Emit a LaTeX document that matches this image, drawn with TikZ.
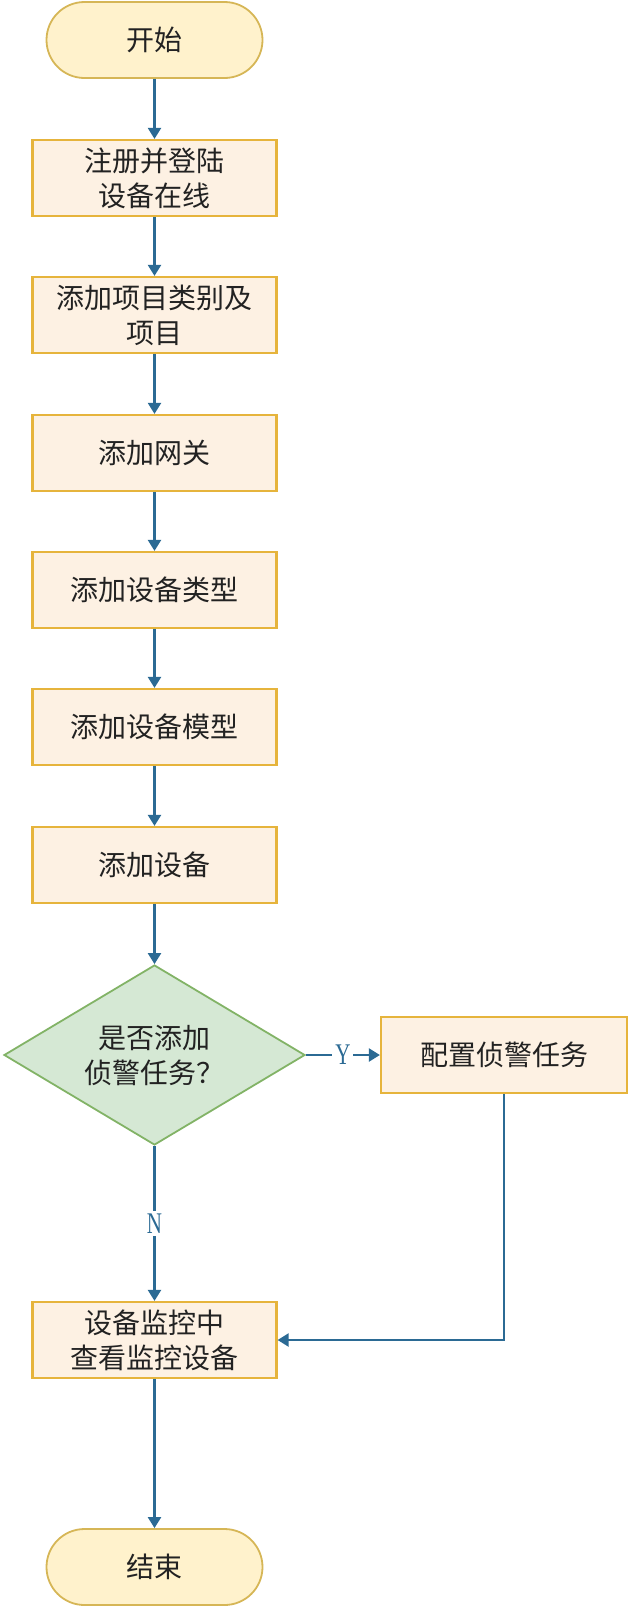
\documentclass[tikz,border=0pt]{standalone}
\usepackage{fontspec}
\newfontfamily\cjk{Noto Sans CJK SC}
\setmainfont{Liberation Serif}
\newfontfamily\condfont[FakeStretch=0.7]{Liberation Serif}
\usetikzlibrary{shapes.geometric,arrows.meta}
\definecolor{boxfill}{HTML}{FDF1E3}
\definecolor{boxline}{HTML}{E6B43C}
\definecolor{termfill}{HTML}{FFF2CC}
\definecolor{termline}{HTML}{D6B656}
\definecolor{decfill}{HTML}{D5E8D4}
\definecolor{decline}{HTML}{82B366}
\definecolor{arrowc}{HTML}{2B6A94}
\definecolor{txt}{HTML}{222222}
\tikzset{
  base/.style={font=\cjk\fontsize{28}{35}\selectfont, text=txt, align=center, inner sep=0pt},
  term/.style={base, draw=termline, fill=termfill, line width=1.8pt, minimum width=216pt, minimum height=76pt, rounded corners=38pt},
  proc/.style={base, draw=boxline, fill=boxfill, line width=2.2pt, minimum width=244pt, minimum height=76pt},
  dec/.style={base, diamond, aspect=2, draw=decline, fill=decfill, line width=1.8pt, minimum width=301pt, minimum height=180pt},
  conn/.style={draw=arrowc, line width=2.2pt, -{Triangle[length=11pt,width=13pt]}},
  lab/.style={fill=white, text=arrowc, inner sep=3pt, font=\condfont\fontsize{30}{30}\selectfont}
}
\begin{document}
\begin{tikzpicture}[x=1pt,y=-1pt]
\path[use as bounding box] (0,0) rectangle (628,1607);
\node[term] (start) at (154.5,40) {开始};
\node[proc] (b1) at (154.5,178) {注册并登陆\\设备在线};
\node[proc] (b2) at (154.5,315) {添加项目类别及\\项目};
\node[proc] (b3) at (154.5,453) {添加网关};
\node[proc] (b4) at (154.5,590) {添加设备类型};
\node[proc] (b5) at (154.5,727) {添加设备模型};
\node[proc] (b6) at (154.5,865) {添加设备};
\node[dec] (d) at (154.5,1055) {是否添加\\侦警任务？};
\node[proc, minimum width=246pt] (cfg) at (504,1055) {配置侦警任务};
\node[proc] (mon) at (154.5,1340) {设备监控中\\查看监控设备};
\node[term] (end) at (154.5,1567) {结束};
\draw[conn] (start) -- (b1);
\draw[conn] (b1) -- (b2);
\draw[conn] (b2) -- (b3);
\draw[conn] (b3) -- (b4);
\draw[conn] (b4) -- (b5);
\draw[conn] (b5) -- (b6);
\draw[conn] (b6) -- (d);
\draw[conn] (d) -- node[lab] {Y} (cfg);
\draw[conn] (d) -- node[lab] {N} (mon);
\draw[conn] (cfg.south) |- (mon.east);
\draw[conn] (mon) -- (end);
\end{tikzpicture}
\end{document}
